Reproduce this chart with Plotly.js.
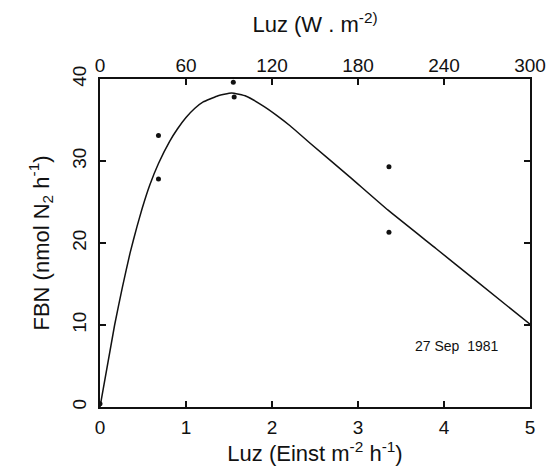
<!DOCTYPE html>
<html>
<head>
<meta charset="utf-8">
<script src="https://cdn.plot.ly/plotly-3.0.1.min.js"></script>
<style>
  html, body { margin: 0; padding: 0; background: #fff; }
  #chart { width: 547px; height: 471px; }
</style>
</head>
<body>
<div id="chart"></div>
<script>
// Measured nitrogen fixation against light (Einst m-2 h-1)
const obsLight = [0, 0.68, 0.68, 1.55, 1.56, 3.36, 3.36];
const obsFBN   = [0.4, 33.1, 27.8, 39.6, 37.8, 29.3, 21.3];

// Fitted light-response curve
const fitLight = [0, 0.17, 0.26, 0.35, 0.43, 0.49, 0.58, 0.68, 0.81, 0.9, 1.0, 1.1, 1.2, 1.36, 1.53,
                  1.7, 1.9, 2.05, 2.21, 2.44, 2.9, 3.35, 3.91, 4.36, 5.0];
const fitFBN   = [0, 10.0, 14.6, 18.8, 22.0, 24.2, 27.1, 29.7, 32.4, 33.9, 35.3, 36.4, 37.2, 37.9, 38.3,
                  37.9, 36.7, 35.6, 34.3, 32.2, 28.1, 24.0, 19.3, 15.5, 10.1];

const einstTicks = [0, 1, 2, 3, 4, 5];
const wattTicks  = [0, 60, 120, 180, 240, 300];
const fbnTicks   = [0, 10, 20, 30, 40];

const font = 'Liberation Sans, Arial, sans-serif';
const ink = '#111';

const traces = [
  {
    x: fitLight, y: fitFBN, type: 'scatter', mode: 'lines',
    line: { color: ink, width: 1.5, shape: 'spline', smoothing: 0.4 },
    hoverinfo: 'skip', showlegend: false
  },
  {
    x: obsLight, y: obsFBN, type: 'scatter', mode: 'markers',
    marker: { color: ink, size: 5 },
    showlegend: false
  },
  {
    // invisible trace that anchors the top (W m-2) axis
    x: [0, 300], y: [0, 0], xaxis: 'x2', type: 'scatter', mode: 'markers',
    marker: { opacity: 0 }, hoverinfo: 'skip', showlegend: false
  }
];

const layout = {
  width: 547, height: 471,
  margin: { l: 100, r: 17, t: 79, b: 64 },
  paper_bgcolor: '#fff', plot_bgcolor: '#fff',
  font: { family: font, color: ink, size: 19 },
  xaxis: {
    range: [0, 5], tickvals: einstTicks, ticktext: einstTicks.map(String),
    ticks: 'inside', ticklen: 6, tickwidth: 1.2, tickcolor: ink,
    showline: true, linecolor: ink, linewidth: 2, mirror: true,
    showgrid: false, zeroline: false, ticklabelstandoff: 2,
    tickfont: { size: 19, family: font, color: ink },
    title: { text: 'Luz (Einst m<sup>-2</sup> h<sup>-1</sup>)', font: { size: 22, family: font, color: ink }, standoff: 8 }
  },
  xaxis2: {
    overlaying: 'x', side: 'top', anchor: 'y',
    range: [0, 300], tickvals: wattTicks, ticktext: wattTicks.map(String),
    ticks: 'inside', ticklen: 6, tickwidth: 1.2, tickcolor: ink,
    showline: false, showgrid: false, zeroline: false, ticklabelstandoff: 2,
    tickfont: { size: 19, family: font, color: ink },
    title: { text: 'Luz (W . m<sup>-2)</sup>', font: { size: 22, family: font, color: ink }, standoff: 16 }
  },
  yaxis: {
    range: [0, 40], tickvals: fbnTicks, ticktext: fbnTicks.map(String),
    ticks: 'inside', ticklen: 6, tickwidth: 1.2, tickcolor: ink,
    showline: true, linecolor: ink, linewidth: 2, mirror: 'ticks',
    showgrid: false, zeroline: false, tickangle: -90, ticklabelstandoff: 4,
    tickfont: { size: 19, family: font, color: ink },
    title: { text: 'FBN (nmol N<sub>2</sub> h<sup>-1</sup>)', font: { size: 22, family: font, color: ink }, standoff: 14 }
  },
  annotations: [
    {
      x: 4.15, y: 7.4, xref: 'x', yref: 'y', showarrow: false,
      text: '27 Sep  1981', font: { size: 14, family: font, color: ink }
    }
  ]
};

Plotly.newPlot('chart', traces, layout, { displayModeBar: false, staticPlot: true });
</script>
</body>
</html>
